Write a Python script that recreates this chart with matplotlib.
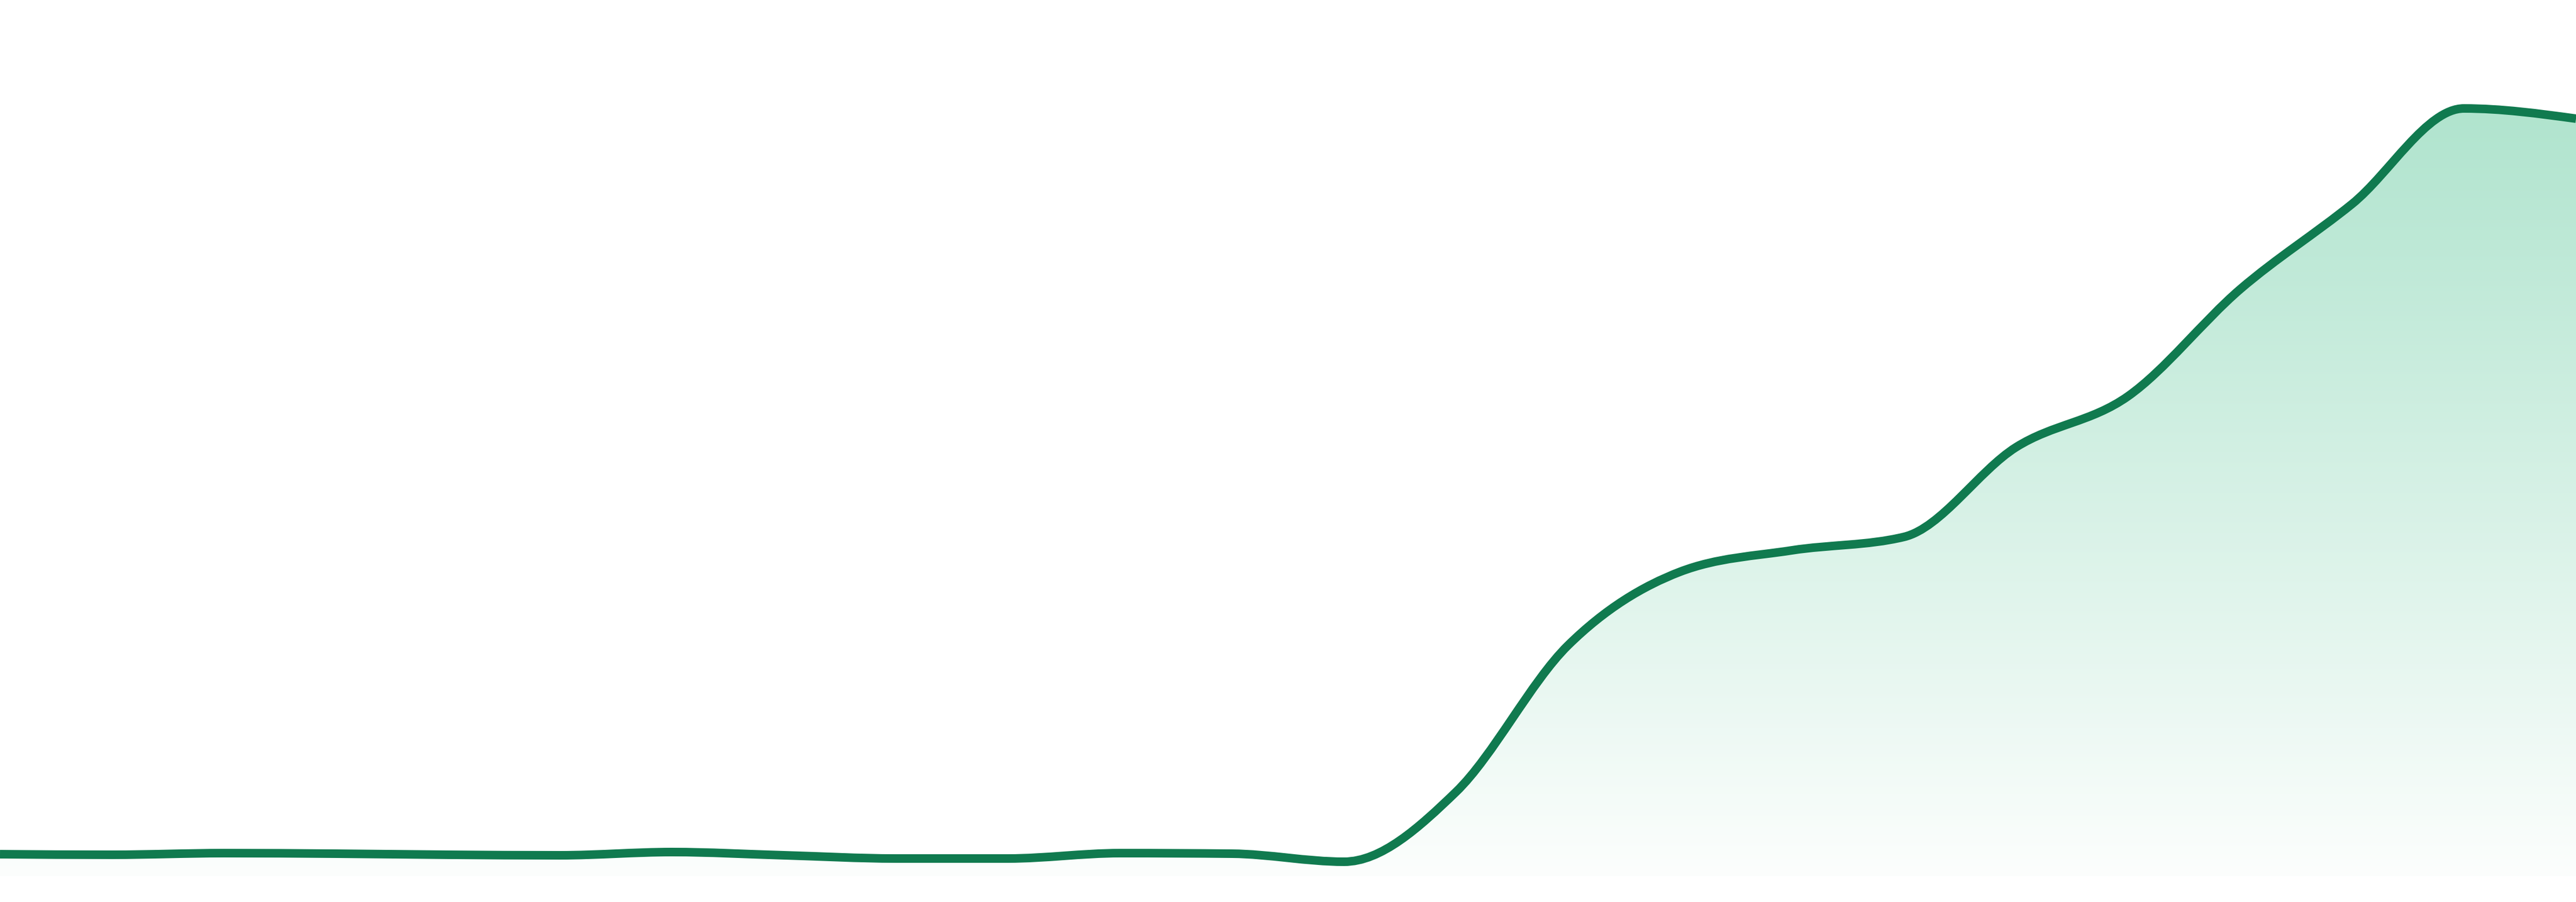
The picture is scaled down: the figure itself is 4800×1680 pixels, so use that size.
import numpy as np
import matplotlib
matplotlib.use("Agg")
from matplotlib import pyplot as plt
from matplotlib.path import Path
from matplotlib.patches import PathPatch

# values (arbitrary units, 0 = bottom of the fill)
days = list(range(24))
values = [41, 40, 43, 42, 40, 39, 45, 39, 33, 33, 43, 42,
          27, 157, 430, 567, 607, 632, 799, 894, 1093, 1252, 1430, 1411]

line_color = "#107a4f"
fill_top = np.array([176, 228, 206]) / 255.0
fill_bottom = np.array([252, 254, 253]) / 255.0


def monotone_slopes(x, y):
    # same slopes as d3.curveMonotoneX
    n = len(x)
    t = np.zeros(n)
    for i in range(1, n - 1):
        h0 = x[i] - x[i - 1]
        h1 = x[i + 1] - x[i]
        s0 = (y[i] - y[i - 1]) / h0
        s1 = (y[i + 1] - y[i]) / h1
        p = (s0 * h1 + s1 * h0) / (h0 + h1)
        t[i] = (np.sign(s0) + np.sign(s1)) * min(abs(s0), abs(s1), 0.5 * abs(p))
    t[0] = (3 * (y[1] - y[0]) / (x[1] - x[0]) - t[1]) / 2
    t[-1] = (3 * (y[-1] - y[-2]) / (x[-1] - x[-2]) - t[-2]) / 2
    return t


def curve_verts(x, y):
    t = monotone_slopes(x, y)
    verts = [(x[0], y[0])]
    codes = [Path.MOVETO]
    for i in range(len(x) - 1):
        dx = (x[i + 1] - x[i]) / 3.0
        verts += [(x[i] + dx, y[i] + dx * t[i]),
                  (x[i + 1] - dx, y[i + 1] - dx * t[i + 1]),
                  (x[i + 1], y[i + 1])]
        codes += [Path.CURVE4] * 3
    return verts, codes


x = np.array(days, dtype=float)
y = np.array(values, dtype=float)

fig = plt.figure(figsize=(48, 16.8), dpi=100)
fig.patch.set_facecolor("white")
ax = fig.add_axes([0, 0, 1, 1])
ax.set_xlim(x[0], x[-1])
ax.set_ylim(-48, 1632)
ax.axis("off")

verts, codes = curve_verts(x, y)

# gradient fill under the line
fill_verts = verts + [(x[-1], 0), (x[0], 0), (x[0], y[0])]
fill_codes = codes + [Path.LINETO, Path.LINETO, Path.CLOSEPOLY]
clip = PathPatch(Path(fill_verts, fill_codes), facecolor="none", edgecolor="none")
ax.add_patch(clip)

ymax = y.max()
k = np.linspace(0, 1, 512)[:, None]
grad = fill_bottom[None, :] * (1 - k) + fill_top[None, :] * k
grad = np.repeat(grad[:, None, :], 2, axis=1)
im = ax.imshow(grad, origin="lower", extent=[x[0], x[-1], 0, ymax],
               aspect="auto", interpolation="bilinear", zorder=1)
im.set_clip_path(clip)

line = PathPatch(Path(verts, codes), facecolor="none", edgecolor=line_color,
                 linewidth=11.5, capstyle="butt", joinstyle="round", zorder=3)
ax.add_patch(line)

ax.set_xlim(x[0], x[-1])
ax.set_ylim(-48, 1632)

plt.savefig("out.png", dpi=100, facecolor="white")
